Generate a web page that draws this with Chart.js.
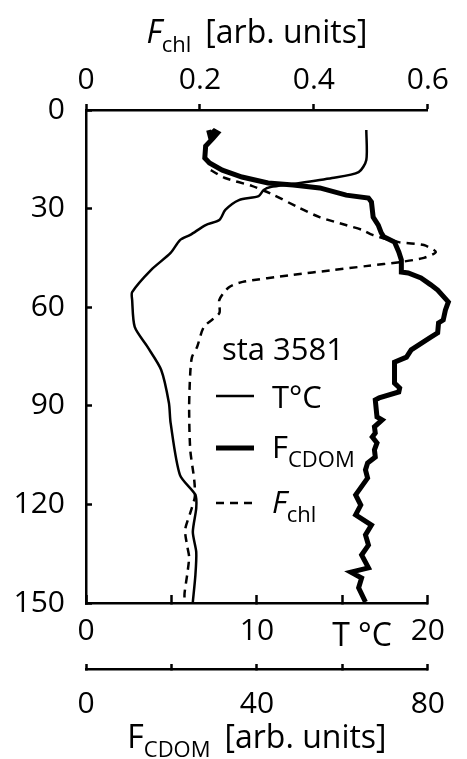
<!DOCTYPE html>
<html>
<head>
<meta charset="utf-8">
<script src="https://cdn.jsdelivr.net/npm/chart.js@4"></script>
<style>
  body { margin: 0; background: #fff; }
  #wrap { width: 467px; height: 759px; }
</style>
</head>
<body>
<div id="wrap"><canvas id="profileChart" width="467" height="759"></canvas></div>
<script>
// Temperature profile (depth in m, T in degC)
const tempDepth = [6.1, 15.2, 18.9, 20.7, 22.5, 23.4, 24.3, 26.2, 27.4, 30.4, 33.5, 35.0, 38.0, 39.6, 43.5, 48.7, 55.4, 57.8, 66.0, 72.1, 79.1, 89.1, 95.2, 111.1, 117.1, 121.1, 128.4, 134.5, 141.5, 149.7];
const tempValues = [16.4, 16.4, 15.95, 14.4, 12.1, 10.8, 10.4, 10.1, 8.95, 8.15, 7.8, 7.0, 6.1, 5.5, 4.95, 3.8, 2.7, 2.7, 2.85, 3.6, 4.4, 4.85, 4.95, 5.5, 6.4, 6.45, 6.25, 6.45, 6.4, 6.25];

// CDOM fluorescence profile
const cdomDepth = [6.1, 7.6, 6.4, 7.0, 8.5, 11.0, 14.6, 16.1, 18.3, 20.4, 22.2, 22.8, 23.7, 25.9, 26.8, 28.0, 32.6, 35.0, 37.4, 38.6, 40.2, 41.7, 43.2, 45.6, 49.3, 49.6, 51.1, 53.2, 54.8, 58.4, 60.9, 63.9, 64.8, 67.8, 69.1, 73.0, 75.2, 76.7, 83.1, 84.6, 85.8, 87.6, 88.2, 93.4, 94.3, 96.4, 98.3, 99.5, 101.3, 103.4, 105.6, 107.4, 109.5, 112.0, 117.1, 120.2, 123.2, 126.3, 129.3, 132.4, 135.4, 139.3, 140.6, 142.4, 145.4, 149.7];
const cdomValues = [28.7, 29.0, 30.0, 30.8, 29.8, 28.0, 27.8, 28.9, 31.9, 36.5, 42.6, 48.5, 54.7, 60.9, 66.1, 66.8, 67.2, 68.4, 69.1, 69.7, 72.2, 72.7, 73.2, 73.8, 73.8, 75.4, 78.4, 80.7, 82.3, 84.8, 84.1, 83.6, 82.5, 82.3, 80.7, 76.1, 75.0, 72.2, 72.2, 73.4, 73.2, 68.6, 67.7, 68.1, 69.3, 67.5, 67.7, 67.0, 68.1, 67.5, 67.7, 65.9, 65.4, 65.9, 63.1, 64.3, 63.1, 66.8, 65.4, 66.1, 64.5, 66.1, 62.0, 64.5, 63.8, 65.4];

// Chlorophyll fluorescence profile
const chlDepth = [18.3, 20.7, 23.1, 25.9, 29.5, 32.6, 35.0, 36.5, 38.0, 40.2, 41.1, 43.2, 45.0, 46.2, 47.5, 48.7, 50.2, 52.3, 53.9, 57.8, 61.8, 66.0, 72.1, 75.2, 80.0, 90.4, 103.4, 112.6, 117.7, 122.6, 127.8, 133.0, 136.0, 140.9, 147.0, 150.0];
const chlValues = [0.219, 0.244, 0.291, 0.330, 0.371, 0.410, 0.456, 0.485, 0.503, 0.549, 0.593, 0.614, 0.593, 0.554, 0.491, 0.434, 0.361, 0.275, 0.251, 0.234, 0.234, 0.207, 0.195, 0.186, 0.183, 0.181, 0.183, 0.190, 0.191, 0.183, 0.174, 0.178, 0.181, 0.178, 0.173, 0.173];

// Axis ranges and labels
const depthTicks = [0, 30, 60, 90, 120, 150];
const tempLabels = [0, 10, 20];
const cdomLabels = [0, 40, 80];
const chlLabels = [0, 0.2, 0.4, 0.6];

const FONT = 'Open Sans';
const tickFont = { family: FONT, size: 30 };

function toPoints(xs, ys) {
    return xs.map((x, i) => ({ x: x, y: ys[i] }));
}

// Draws text pieces one after another, sub marks a subscript
function drawPieces(ctx, pieces, x, y, size) {
    pieces.forEach(p => {
        const s = p.sub ? Math.round(size * 0.7) : size;
        ctx.font = (p.italic ? 'italic ' : '') + s + 'px "' + FONT + '"';
        ctx.fillText(p.t, x, y + (p.sub ? size * 0.28 : 0));
        x += ctx.measureText(p.t).width + (p.gap || 0);
    });
}

function piecesWidth(ctx, pieces, size) {
    let w = 0;
    pieces.forEach(p => {
        const s = p.sub ? Math.round(size * 0.7) : size;
        ctx.font = (p.italic ? 'italic ' : '') + s + 'px "' + FONT + '"';
        w += ctx.measureText(p.t).width + (p.gap || 0);
    });
    return w;
}

// Titles, the T label and the in-plot legend
const textPlugin = {
    id: 'texts',
    afterDraw(chart) {
        const ctx = chart.ctx;
        const area = chart.chartArea;
        const mid = (area.left + area.right) / 2;
        ctx.save();
        ctx.fillStyle = '#000';
        ctx.strokeStyle = '#000';
        ctx.textBaseline = 'alphabetic';
        ctx.textAlign = 'left';

        const topTitle = [{ t: 'F', italic: true }, { t: 'chl', sub: true, gap: 14 }, { t: '[arb. units]' }];
        drawPieces(ctx, topTitle, mid - piecesWidth(ctx, topTitle, 32) / 2, 43, 32);

        const botTitle = [{ t: 'F' }, { t: 'CDOM', sub: true, gap: 14 }, { t: '[arb. units]' }];
        drawPieces(ctx, botTitle, mid - piecesWidth(ctx, botTitle, 32) / 2, 748, 32);

        const xT = chart.scales.xT;
        ctx.font = '32px "' + FONT + '"';
        ctx.fillText('T °C', xT.getPixelForValue(14.4), 646);

        // legend
        const lx = area.left + 130, tx = area.left + 186;
        ctx.font = '31px "' + FONT + '"';
        ctx.fillText('sta 3581', area.left + 136, 360);
        const rows = [
            { y: 396, base: 408, pieces: [{ t: 'T°C' }] },
            { y: 448, base: 458, pieces: [{ t: 'F' }, { t: 'CDOM', sub: true }] },
            { y: 503, base: 513, pieces: [{ t: 'F', italic: true }, { t: 'chl', sub: true }] }
        ];
        rows.forEach((r, i) => {
            const ds = chart.data.datasets[i];
            ctx.beginPath();
            ctx.lineWidth = ds.borderWidth;
            ctx.setLineDash(ds.borderDash || []);
            ctx.moveTo(lx, r.y);
            ctx.lineTo(lx + 38, r.y);
            ctx.stroke();
            ctx.setLineDash([]);
            drawPieces(ctx, r.pieces, tx, r.base, 31);
        });
        ctx.restore();
    }
};

function axisGrid(len) {
    return { drawOnChartArea: false, tickLength: len, tickWidth: 2.5, tickColor: '#000' };
}
const axisBorder = { color: '#000', width: 2.5 };

const ctx = document.getElementById('profileChart').getContext('2d');
new Chart(ctx, {
    type: 'scatter',
    data: {
        datasets: [{
            label: 'T°C',
            data: toPoints(tempValues, tempDepth),
            xAxisID: 'xT',
            borderColor: '#000',
            borderWidth: 2.5,
            tension: 0.25,
            showLine: true,
            pointRadius: 0,
            clip: false
        }, {
            label: 'F CDOM',
            data: toPoints(cdomValues, cdomDepth),
            xAxisID: 'xCdom',
            borderColor: '#000',
            borderWidth: 5,
            tension: 0,
            showLine: true,
            pointRadius: 0,
            clip: false
        }, {
            label: 'F chl',
            data: toPoints(chlValues, chlDepth),
            xAxisID: 'xChl',
            borderColor: '#000',
            borderWidth: 2.5,
            borderDash: [8, 6],
            tension: 0.25,
            showLine: true,
            pointRadius: 0,
            clip: false
        }]
    },
    options: {
        responsive: false,
        animation: false,
        layout: { padding: { left: 0, right: 30, top: 0, bottom: 0 } },
        plugins: { legend: { display: false }, tooltip: { enabled: false } },
        scales: {
            y: {
                position: 'left',
                reverse: true,
                min: depthTicks[0],
                max: depthTicks[depthTicks.length - 1],
                ticks: { stepSize: 30, padding: 27, font: tickFont, color: '#000' },
                grid: axisGrid(-6),
                border: axisBorder,
                afterFit: s => { s.width = 86; }
            },
            xChl: {
                type: 'linear',
                position: 'top',
                min: 0,
                max: 0.6,
                ticks: {
                    stepSize: 0.2, padding: 6, font: tickFont, color: '#000', autoSkip: false,
                    callback: v => chlLabels.some(l => Math.abs(l - v) < 1e-6) ? (v === 0 ? '0' : v.toFixed(1)) : ''
                },
                grid: axisGrid(6),
                border: axisBorder,
                afterFit: s => { s.height = 110; }
            },
            xT: {
                type: 'linear',
                position: 'bottom',
                weight: 0,
                min: 0,
                max: 20,
                ticks: {
                    stepSize: 5, padding: 18, font: tickFont, color: '#000', autoSkip: false,
                    callback: v => tempLabels.includes(v) ? String(v) : ''
                },
                grid: axisGrid(-8),
                border: axisBorder,
                afterFit: s => { s.height = 66; }
            },
            xCdom: {
                type: 'linear',
                position: 'bottom',
                weight: 1,
                min: 0,
                max: 80,
                ticks: {
                    stepSize: 20, padding: 22, font: tickFont, color: '#000', autoSkip: false,
                    callback: v => cdomLabels.includes(v) ? String(v) : ''
                },
                grid: axisGrid(-5),
                border: axisBorder,
                afterFit: s => { s.height = 90; }
            }
        }
    },
    plugins: [textPlugin]
});
</script>
</body>
</html>
